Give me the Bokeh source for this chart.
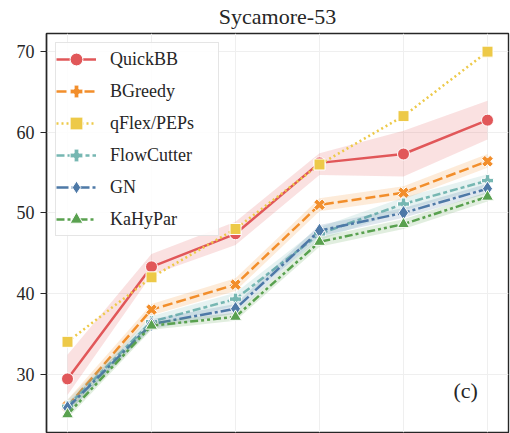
import math
from bokeh.plotting import figure
from bokeh.models import FixedTicker, Label, Legend
from bokeh.embed import file_html
from bokeh.resources import INLINE

# Six instance sizes along x (positions only, the x axis is unlabeled)
steps = [0, 1, 2, 3, 4, 5]

# Mean contraction width per method
quickbb = [29.4, 43.3, 47.4, 56.2, 57.3, 61.5]
bgreedy = [26.0, 38.0, 41.1, 51.0, 52.5, 56.4]
qflex = [34.0, 42.0, 48.0, 56.0, 62.0, 70.0]
flowcutter = [26.0, 36.5, 39.3, 47.4, 51.1, 54.0]
gn = [25.8, 36.2, 38.1, 47.8, 50.0, 53.0]
kahypar = [25.0, 36.0, 37.1, 46.4, 48.6, 52.0]

# Confidence bands (lower / upper)
quickbb_lo = [27.4, 42.3, 46.0, 54.7, 54.5, 59.1]
quickbb_hi = [32.4, 44.9, 48.9, 57.4, 60.2, 63.9]
bgreedy_lo = [25.3, 37.3, 40.3, 50.2, 51.7, 55.6]
bgreedy_hi = [26.8, 38.7, 41.9, 51.8, 53.3, 57.3]
flowcutter_lo = [25.2, 35.8, 38.5, 46.6, 50.3, 53.2]
flowcutter_hi = [26.8, 37.2, 40.1, 48.2, 51.9, 54.8]
gn_lo = [25.2, 35.6, 37.5, 47.1, 49.4, 52.4]
gn_hi = [26.4, 36.8, 38.7, 48.5, 50.6, 53.6]
kahypar_lo = [24.5, 35.5, 36.6, 45.8, 48.0, 51.4]
kahypar_hi = [25.5, 36.5, 37.6, 47.0, 49.2, 52.6]

y_ticks = [30, 40, 50, 60, 70]

SERIF = "Liberation Serif"
INK = "#262626"

series = [
    # label, values, lo, hi, color, dash, marker, size, angle
    ("QuickBB", quickbb, quickbb_lo, quickbb_hi, "#e15759", "solid", "circle", 12, 0.0),
    ("BGreedy", bgreedy, bgreedy_lo, bgreedy_hi, "#f28e2b", "10 4", "plus", 12, math.pi / 4),
    ("qFlex/PEPs", qflex, None, None, "#edc948", "2 3", "square", 11, 0.0),
    ("FlowCutter", flowcutter, flowcutter_lo, flowcutter_hi, "#76b7b2", "8 3 4 3", "plus", 12, 0.0),
    ("GN", gn, gn_lo, gn_hi, "#4e79a7", "12 3 3 3", "diamond", 15, 0.0),
    ("KaHyPar", kahypar, kahypar_lo, kahypar_hi, "#59a14f", "8 3 3 3 3 3", "triangle", 12, 0.0),
]

p = figure(
    width=510, height=433,
    x_range=(-0.25, 5.25), y_range=(22.75, 72.25),
    output_backend="svg", toolbar_location=None,
    min_border_left=46, min_border_right=2, min_border_top=32, min_border_bottom=1,
    title="Sycamore-53",
)
p.title.align = "center"
p.title.vertical_align = "top"
p.title.text_font = SERIF
p.title.text_font_size = "22px"
p.title.text_font_style = "normal"
p.title.text_color = INK
p.title.standoff = 6

p.xaxis.visible = False
p.yaxis.ticker = FixedTicker(ticks=y_ticks)
p.yaxis.minor_tick_line_color = None
p.yaxis.major_tick_out = 6
p.yaxis.major_tick_in = 0
p.yaxis.major_tick_line_color = INK
p.yaxis.major_tick_line_width = 1.2
p.yaxis.axis_line_color = INK
p.yaxis.axis_line_width = 1.4
p.yaxis.major_label_text_font = SERIF
p.yaxis.major_label_text_font_size = "18px"
p.yaxis.major_label_text_color = INK
p.yaxis.major_label_standoff = 6

p.xgrid.ticker = FixedTicker(ticks=steps)
p.ygrid.ticker = FixedTicker(ticks=y_ticks)
p.grid.grid_line_color = "#efefef"
p.grid.grid_line_width = 1

p.outline_line_color = INK
p.outline_line_width = 1.4
p.background_fill_color = "white"
p.border_fill_color = "white"

items = []
for label, vals, lo, hi, color, dash, marker, size, angle in series:
    if lo is not None:
        p.varea(x=steps, y1=lo, y2=hi, fill_color=color, fill_alpha=0.18)
    line = p.line(steps, vals, line_color=color, line_width=2.5, line_dash=dash)
    pts = p.scatter(steps, vals, marker=marker, size=size, angle=angle,
                    fill_color=color, line_color="white", line_width=1)
    items.append((label, [line, pts]))

legend = Legend(items=items, location="top_left")
legend.label_text_font = SERIF
legend.label_text_font_size = "18px"
legend.label_text_color = INK
legend.glyph_width = 40
legend.glyph_height = 32
legend.label_height = 32
legend.label_width = 108
legend.spacing = -5
legend.padding = 0
legend.label_standoff = 14
legend.margin = 9
legend.border_line_color = "#cccccc"
legend.border_line_width = 1
legend.background_fill_alpha = 0.85
p.add_layout(legend, "center")

p.add_layout(Label(x=4.74, y=27.9, text="(c)", text_font=SERIF, text_font_size="22px",
                   text_color=INK, text_align="center", text_baseline="middle"))

open("out.html", "w").write(file_html(p, INLINE))
